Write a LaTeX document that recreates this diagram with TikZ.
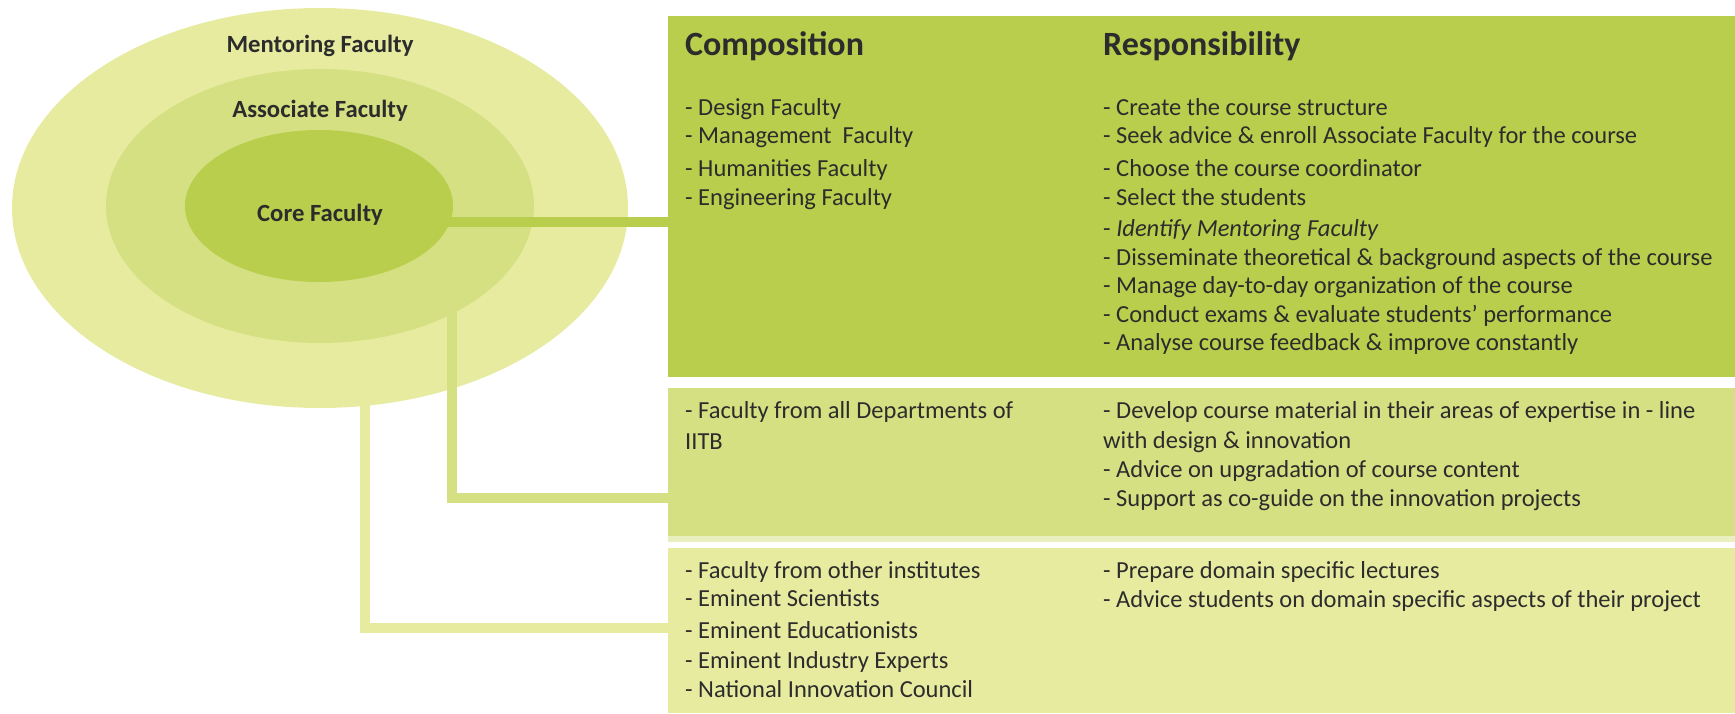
\documentclass[tikz,border=0pt]{standalone}
\usepackage{fontspec}
\setmainfont{Carlito}
\usetikzlibrary{shapes.geometric}
\definecolor{gdark}{HTML}{B9CE4C}
\definecolor{gmid}{HTML}{D5E082}
\definecolor{glight}{HTML}{E7EBA0}
\definecolor{gstrip}{HTML}{E9EFBE}
\definecolor{txt}{HTML}{2C2C2C}
\begin{document}
\begin{tikzpicture}[x=1pt,y=-1pt,
  ring/.style={ellipse, inner sep=0pt, draw=none},
  panel/.style={rectangle, inner sep=0pt, anchor=north west, draw=none},
  ringlabel/.style={font=\fontsize{24.7}{28}\selectfont\bfseries, text=txt, anchor=base, inner sep=0pt},
  head/.style={font=\fontsize{34}{38}\selectfont\bfseries, text=txt, anchor=base west, inner sep=0pt},
  item/.style={font=\fontsize{24.5}{28}\selectfont, text=txt, anchor=base west, inner sep=0pt},
  link/.style={line width=10pt}
]
\useasboundingbox (0,0) rectangle (1735,713);
% rings
\node[ring, fill=glight, minimum width=616pt, minimum height=400pt] (outer) at (320,208) {};
\node[ring, fill=gmid, minimum width=428pt, minimum height=274pt] (middle) at (320,206) {};
\node[ring, fill=gdark, minimum width=268pt, minimum height=152pt] (inner) at (319,206) {};
% panels
\node[panel, fill=gdark, minimum width=1067pt, minimum height=361pt] (box1) at (668,16) {};
\node[panel, fill=gmid, minimum width=1067pt, minimum height=148pt] (box2) at (668,388) {};
\node[panel, fill=gstrip, minimum width=1067pt, minimum height=6pt] (strip) at (668,536) {};
\node[panel, fill=glight, minimum width=1067pt, minimum height=165pt] (box3) at (668,548) {};
% connectors
\coordinate (a0) at (452,300);
\coordinate (m0) at (365,395);
\draw[link, draw=gdark] ([xshift=-10pt]inner.east |- 0,222) -- (box1.west |- 0,222);
\draw[link, draw=gmid] (a0) |- (box2.west |- 0,498);
\draw[link, draw=glight] (m0) |- (box3.west |- 0,628);
% ring labels
\node[ringlabel] (lmentor) at (320,52) {Mentoring Faculty};
\node[ringlabel] (lassoc) at (320,117) {Associate Faculty};
\node[ringlabel] (lcore) at (320,221) {Core Faculty};
% headers
\node[head] (hcomp) at (685,55) {Composition};
\node[head] (hresp) at (1103,55) {Responsibility};
% box 1 left
\node[item] (c1) at (685,115) {- Design Faculty};
\node[item] (c2) at (685,143) {- Management\ \ Faculty};
\node[item] (c3) at (685,176) {- Humanities Faculty};
\node[item] (c4) at (685,205) {- Engineering Faculty};
% box 1 right
\node[item] (r1) at (1103,115) {- Create the course structure};
\node[item] (r2) at (1103,143) {- Seek advice \& enroll Associate Faculty for the course};
\node[item] (r3) at (1103,176) {- Choose the course coordinator};
\node[item] (r4) at (1103,205) {- Select the students};
\node[item] (r5) at (1103,236) {- \itshape Identify Mentoring Faculty};
\node[item] (r6) at (1103,265) {- Disseminate theoretical \& background aspects of the course};
\node[item] (r7) at (1103,293) {- Manage day-to-day organization of the course};
\node[item] (r8) at (1103,322) {- Conduct exams \& evaluate students’ performance};
\node[item] (r9) at (1103,350) {- Analyse course feedback \& improve constantly};
% box 2
\node[item] (d1) at (685,418) {- Faculty from all Departments of};
\node[item] (d2) at (685,449) {IITB};
\node[item] (e1) at (1103,418) {- Develop course material in their areas of expertise in - line};
\node[item] (e2) at (1103,448) {with design \& innovation};
\node[item] (e3) at (1103,477) {- Advice on upgradation of course content};
\node[item] (e4) at (1103,506) {- Support as co-guide on the innovation projects};
% box 3
\node[item] (f1) at (685,578) {- Faculty from other institutes};
\node[item] (f2) at (685,606) {- Eminent Scientists};
\node[item] (f3) at (685,638) {- Eminent Educationists};
\node[item] (f4) at (685,668) {- Eminent Industry Experts};
\node[item] (f5) at (685,697) {- National Innovation Council};
\node[item] (g1) at (1103,578) {- Prepare domain specific lectures};
\node[item] (g2) at (1103,607) {- Advice students on domain specific aspects of their project};
\end{tikzpicture}
\end{document}
